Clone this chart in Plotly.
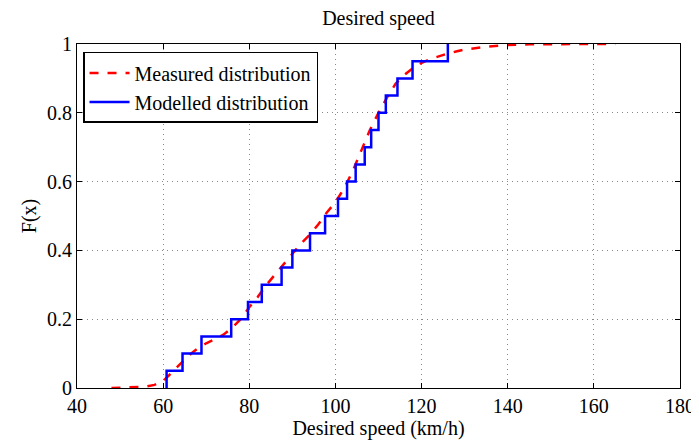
import plotly.graph_objects as go

# Measured distribution (smooth empirical CDF)
measured_x = [48, 52, 56, 58, 60, 62, 64, 66, 68, 70, 72, 74, 76, 78, 80, 82, 84, 86, 88, 90,
              92, 94, 96, 98, 100, 102, 104, 106, 108, 110, 112, 114, 116, 118, 120, 122, 124,
              126, 128, 130, 135, 140, 145, 150, 155, 160, 165]
measured_F = [0.0, 0.001, 0.004, 0.009, 0.02, 0.045, 0.07, 0.095, 0.115, 0.13, 0.142, 0.155,
              0.175, 0.2, 0.235, 0.265, 0.3, 0.33, 0.36, 0.39, 0.42, 0.445, 0.475, 0.51, 0.54,
              0.58, 0.63, 0.69, 0.75, 0.8, 0.845, 0.885, 0.91, 0.93, 0.945, 0.956, 0.965, 0.972,
              0.978, 0.984, 0.992, 0.997, 0.999, 1.0, 1.0, 1.0, 1.0]

# Modelled distribution (step function)
model_x = [60.8, 60.8, 64.5, 68.9, 75.8, 79.7, 82.9, 87.5, 90.0, 94.1, 97.6, 100.6, 102.7,
           104.7, 106.8, 108.3, 110.0, 111.7, 114.4, 117.9, 126.1]
model_F = [0.0, 0.05, 0.10, 0.15, 0.20, 0.25, 0.30, 0.35, 0.40, 0.45, 0.50, 0.55, 0.60,
           0.65, 0.70, 0.75, 0.80, 0.85, 0.90, 0.95, 1.0]

x_ticks = [40, 60, 80, 100, 120, 140, 160, 180]
y_ticks = [0, 0.2, 0.4, 0.6, 0.8, 1]
y_tick_labels = ["0", "0.2", "0.4", "0.6", "0.8", "1"]

FONT = "Liberation Serif"

fig = go.Figure()
fig.add_trace(go.Scatter(x=measured_x, y=measured_F, mode="lines",
                         name="Measured distribution",
                         line=dict(color="#ff0000", width=2.5, dash="dash")))
fig.add_trace(go.Scatter(x=model_x, y=model_F, mode="lines", line_shape="hv",
                         name="Modelled distribution",
                         line=dict(color="#0000ff", width=2.5)))

axis_common = dict(showline=True, linecolor="black", linewidth=1, mirror="ticks",
                   ticks="inside", ticklen=5, tickcolor="black",
                   showgrid=True, gridcolor="#888888", gridwidth=1, griddash="1px,4px",
                   zeroline=False, tickfont=dict(family=FONT, size=20, color="black"))

fig.update_layout(
    width=699, height=441,
    paper_bgcolor="white", plot_bgcolor="white",
    font=dict(family=FONT, color="black"),
    margin=dict(l=69, r=23, t=36, b=61),
    title=dict(text="Desired speed", x=0.5, xref="paper", xanchor="center",
               y=0.977, yanchor="middle", font=dict(family=FONT, size=20, color="black")),
    xaxis=dict(range=[40, 180], tickvals=x_ticks,
               title=dict(text="Desired speed (km/h)", standoff=0,
                          font=dict(family=FONT, size=20, color="black")),
               **axis_common),
    yaxis=dict(range=[0, 1], tickvals=y_ticks, ticktext=y_tick_labels,
               title=dict(text="F(x)", standoff=5,
                          font=dict(family=FONT, size=20, color="black")),
               **axis_common),
    legend=dict(x=0.01, y=0.977, xanchor="left", yanchor="top",
                bgcolor="white", bordercolor="black", borderwidth=1.5,
                font=dict(family=FONT, size=20, color="black"),
                tracegroupgap=0, itemwidth=40),
    showlegend=True,
)

fig.write_html("out.html")
